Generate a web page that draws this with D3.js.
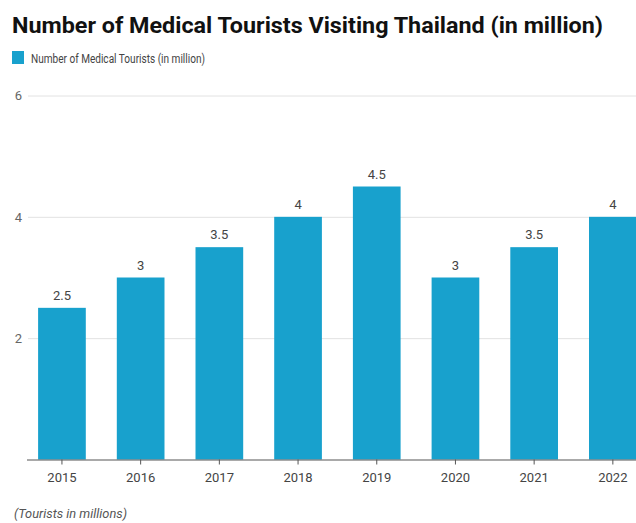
<!DOCTYPE html>
<html>
<head>
<meta charset="utf-8">
<script src="https://cdn.jsdelivr.net/npm/d3@7"></script>
<style>
  html, body { margin: 0; padding: 0; background: #fff; }
  svg { display: block; font-family: Roboto, "Noto Sans", sans-serif; }
</style>
</head>
<body>
<svg id="chart" width="636" height="523"></svg>
<script>
// Medical tourists visiting Thailand, millions per year
const years = ["2015", "2016", "2017", "2018", "2019", "2020", "2021", "2022"];
const tourists = [2.5, 3, 3.5, 4, 4.5, 3, 3.5, 4];
const yTicks = [2, 4, 6];

const titleText = "Number of Medical Tourists Visiting Thailand (in million)";
const legendText = "Number of Medical Tourists (in million)";
const footText = "(Tourists in millions)";
const barColor = "#18a1cd";

const svg = d3.select("#chart");

const x = d3.scaleBand()
  .domain(years)
  .range([22.6, 652.2])
  .paddingInner(0.394)
  .paddingOuter(0.197);

const y = d3.scaleLinear().domain([0, 6]).range([459.5, 95.5]);

// title and legend
svg.append("text")
  .attr("x", 12).attr("y", 33)
  .attr("font-size", 22).attr("font-weight", 700).attr("fill", "#111")
  .attr("textLength", 591).attr("lengthAdjust", "spacingAndGlyphs")
  .text(titleText);

svg.append("rect")
  .attr("x", 12).attr("y", 51).attr("width", 12).attr("height", 13)
  .attr("fill", barColor);
svg.append("text")
  .attr("x", 31).attr("y", 63)
  .attr("font-size", 12.5).attr("fill", "#444")
  .attr("textLength", 174).attr("lengthAdjust", "spacingAndGlyphs")
  .text(legendText);

// gridlines and y labels
const yAxis = d3.axisLeft(y).tickValues(yTicks).tickFormat(d3.format("d"))
  .tickSize(-(636 - 28)).tickPadding(6);
const gy = svg.append("g").attr("transform", "translate(28,0)").call(yAxis);
gy.select(".domain").remove();
gy.selectAll(".tick line").attr("stroke", "#e2e2e2");
gy.selectAll(".tick text").attr("font-size", 13).attr("fill", "#666")
  .attr("font-family", "Roboto, sans-serif").attr("x", -6);

// bars
svg.append("g").selectAll("rect")
  .data(years)
  .join("rect")
  .attr("x", d => x(d))
  .attr("width", x.bandwidth())
  .attr("y", (d, i) => y(tourists[i]))
  .attr("height", (d, i) => y(0) - y(tourists[i]))
  .attr("fill", barColor);

// value labels
svg.append("g").selectAll("text")
  .data(years)
  .join("text")
  .attr("x", d => x(d) + x.bandwidth() / 2)
  .attr("y", (d, i) => y(tourists[i]) - 8)
  .attr("text-anchor", "middle")
  .attr("font-size", 13).attr("fill", "#444")
  .text((d, i) => tourists[i]);

// x axis
const xAxis = d3.axisBottom(x).tickSize(5).tickPadding(8).tickSizeOuter(0);
const gx = svg.append("g").attr("transform", `translate(0,${y(0)})`).call(xAxis);
gx.select(".domain").attr("d", "M27,0.5H636").attr("stroke", "#555");
gx.selectAll(".tick line").attr("stroke", "#555");
gx.selectAll(".tick text").attr("font-size", 13).attr("fill", "#444")
  .attr("font-family", "Roboto, sans-serif");

// footnote
svg.append("text")
  .attr("x", 14).attr("y", 518)
  .attr("font-size", 12).attr("font-style", "italic").attr("fill", "#555")
  .attr("textLength", 113).attr("lengthAdjust", "spacingAndGlyphs")
  .text(footText);
</script>
</body>
</html>
